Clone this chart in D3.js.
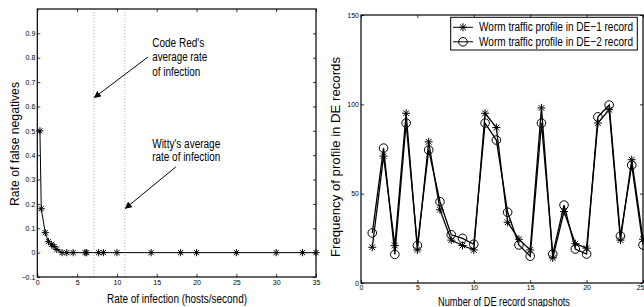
<!DOCTYPE html>
<html>
<head>
<meta charset="utf-8">
<script src="https://cdn.jsdelivr.net/npm/d3@7/dist/d3.min.js"></script>
<style>
  body { margin: 0; background: #fff; }
  text { font-family: "Liberation Sans", Arial, sans-serif; fill: #000; }
</style>
</head>
<body>
<div id="chart"></div>
<script>
// left panel: false negatives vs infection rate
const infectionRate = [0.33, 0.5, 1, 1.4, 1.8, 2.1, 2.45, 3.1, 3.7, 4.5, 6, 6.2, 7.7, 8.3, 10, 14.3, 18, 20, 25, 30, 33.3, 35];
const falseNegRate = [0.5, 0.18, 0.082, 0.045, 0.034, 0.025, 0.013, 0, 0, 0, 0, 0, 0, 0, 0, 0, 0, 0, 0, 0, 0, 0];
const leftXTicks = [0, 5, 10, 15, 20, 25, 30, 35];
const leftYTicks = [-0.1, 0, 0.1, 0.2, 0.3, 0.4, 0.5, 0.6, 0.7, 0.8, 0.9];
const codeRedRate = 7.1, wittyRate = 11;

// right panel: DE record snapshots
const snapshots = [1, 2, 3, 4, 5, 6, 7, 8, 9, 10, 11, 12, 13, 14, 15, 16, 17, 18, 19, 20, 21, 22, 23, 24, 25];
const de1 = [20, 71, 21, 95, 18.5, 79, 41, 24, 21, 18.5, 95, 87, 34, 24.5, 18.5, 98, 14, 40, 22, 19.5, 89.5, 97, 24, 69, 24.5];
const de2 = [28, 75.5, 16, 89.5, 21, 74.5, 45.5, 27, 25, 21.7, 89.5, 80, 39.6, 21.3, 15, 89.5, 16.2, 43.6, 19, 16.2, 93, 99.6, 26.3, 66, 21.3];
const rightXTicks = [0, 5, 10, 15, 20, 25];
const rightYTicks = [0, 50, 100, 150];
const legendLabels = ["Worm traffic profile in DE\u22121 record", "Worm traffic profile in DE\u22122 record"];

const width = 644, height = 307;
const svg = d3.select("#chart").append("svg")
  .attr("width", width).attr("height", height);

const defs = svg.append("defs");
defs.append("marker")
  .attr("id", "arrow")
  .attr("viewBox", "0 0 10 10")
  .attr("refX", 10).attr("refY", 5)
  .attr("markerWidth", 7).attr("markerHeight", 7)
  .attr("markerUnits", "userSpaceOnUse")
  .attr("orient", "auto")
  .append("path").attr("d", "M0,0L10,5L0,10z").attr("fill", "#000");

// matlab style '*' marker (plus + cross)
function star(r) {
  const d = r * Math.SQRT1_2;
  return `M0,${-r}V${r}M${-r},0H${r}M${-d},${-d}L${d},${d}M${-d},${d}L${d},${-d}`;
}

// squeeze text to a given width (reference uses a narrow font)
function squeeze(sel, w) {
  sel.attr("textLength", w).attr("lengthAdjust", "spacingAndGlyphs");
}

function frame(g, x, y, xTicks, yTicks, xFmt, yFmt, pad) {
  const [x0, x1] = x.range(), [y0, y1] = y.range();
  g.append("g").attr("class", "xaxis").attr("transform", `translate(0,${y0})`)
    .call(d3.axisBottom(x).tickValues(xTicks).tickFormat(xFmt).tickSizeInner(-3).tickSizeOuter(0).tickPadding(pad));
  g.append("g").attr("transform", `translate(0,${y1})`)
    .call(d3.axisTop(x).tickValues(xTicks).tickFormat("").tickSizeInner(-3).tickSizeOuter(0));
  g.append("g").attr("transform", `translate(${x0},0)`)
    .call(d3.axisLeft(y).tickValues(yTicks).tickFormat(yFmt).tickSizeInner(-3).tickSizeOuter(0).tickPadding(2));
  g.append("g").attr("transform", `translate(${x1},0)`)
    .call(d3.axisRight(y).tickValues(yTicks).tickFormat("").tickSizeInner(-3).tickSizeOuter(0));
  g.selectAll(".domain").remove();
  g.selectAll(".tick line").attr("stroke", "#000").attr("stroke-width", 0.8);
  g.selectAll(".tick text").attr("font-size", 7).attr("fill", "#333")
    .style("font-family", "'Liberation Sans', Arial, sans-serif");
  g.append("rect")
    .attr("x", x0).attr("y", y1)
    .attr("width", x1 - x0).attr("height", y0 - y1)
    .attr("fill", "none").attr("stroke", "#000").attr("stroke-width", 1.2);
}

// ---------- left panel ----------
const xL = d3.scaleLinear().domain([0, 35]).range([37.3, 316]);
const yL = d3.scaleLinear().domain([-0.1, 1.0]).range([277, 9]);
const left = svg.append("g");

[codeRedRate, wittyRate].forEach(r => {
  left.append("line")
    .attr("x1", xL(r)).attr("x2", xL(r))
    .attr("y1", yL(1.0)).attr("y2", yL(-0.1))
    .attr("stroke", "#999").attr("stroke-width", 0.8)
    .attr("stroke-dasharray", "1,2");
});

frame(left, xL, yL, leftXTicks, leftYTicks, d3.format("d"), d3.format(".1~f"), 3);

const ptsL = infectionRate.map((r, i) => [r, falseNegRate[i]]);
left.append("path")
  .datum(ptsL)
  .attr("fill", "none").attr("stroke", "#000").attr("stroke-width", 1)
  .attr("d", d3.line().x(d => xL(d[0])).y(d => yL(d[1])));
left.selectAll(".starL").data(ptsL).enter().append("path")
  .attr("transform", d => `translate(${xL(d[0])},${yL(d[1])})`)
  .attr("d", star(3.6))
  .attr("stroke", "#000").attr("stroke-width", 1).attr("fill", "none");

// annotations
left.append("line")
  .attr("x1", xL(13.9)).attr("y1", yL(0.803))
  .attr("x2", xL(codeRedRate)).attr("y2", yL(0.635))
  .attr("stroke", "#000").attr("stroke-width", 1).attr("marker-end", "url(#arrow)");
left.append("line")
  .attr("x1", xL(17.4)).attr("y1", yL(0.352))
  .attr("x2", xL(wittyRate)).attr("y2", yL(0.18))
  .attr("stroke", "#000").attr("stroke-width", 1).attr("marker-end", "url(#arrow)");

const notes = [
  { text: "Code Red's", y: 0.86, w: 52 },
  { text: "average rate", y: 0.803, w: 55 },
  { text: "of infection", y: 0.742, w: 48 },
  { text: "Witty's average", y: 0.446, w: 68 },
  { text: "rate of infection", y: 0.393, w: 68 }
];
notes.forEach(n => {
  left.append("text")
    .attr("x", xL(14.43)).attr("y", yL(n.y))
    .attr("dominant-baseline", "central")
    .attr("font-size", 12.5)
    .text(n.text)
    .call(squeeze, n.w);
});

left.append("text")
  .attr("x", 177).attr("y", 299)
  .attr("text-anchor", "middle").attr("dominant-baseline", "central")
  .attr("font-size", 12.5)
  .text("Rate of infection (hosts/second)")
  .call(squeeze, 140);
left.append("text")
  .attr("transform", "translate(15,144) rotate(-90)")
  .attr("text-anchor", "middle").attr("dominant-baseline", "central")
  .attr("font-size", 12.5)
  .text("Rate of false negatives")
  .call(squeeze, 124);

// ---------- right panel ----------
const xR = d3.scaleLinear().domain([0, 25]).range([361, 643]);
const yR = d3.scaleLinear().domain([0, 150]).range([283, 15]);
const right = svg.append("g");

frame(right, xR, yR, rightXTicks, rightYTicks, d3.format("d"), d3.format("d"), 2);
// last x label sits at the page edge: keep it inside
right.selectAll(".xaxis .tick text")
  .filter(d => d === 25)
  .attr("text-anchor", "end").attr("dx", 1);

const lineR = d3.line().x(d => xR(d[0])).y(d => yR(d[1]));
const s1 = snapshots.map((s, i) => [s, de1[i]]);
const s2 = snapshots.map((s, i) => [s, de2[i]]);

right.append("path").datum(s1)
  .attr("fill", "none").attr("stroke", "#000").attr("stroke-width", 1.3)
  .attr("d", lineR);
right.append("path").datum(s2)
  .attr("fill", "none").attr("stroke", "#000").attr("stroke-width", 1.3)
  .attr("d", lineR);

right.selectAll(".starR").data(s1).enter().append("path")
  .attr("transform", d => `translate(${xR(d[0])},${yR(d[1])})`)
  .attr("d", star(4))
  .attr("stroke", "#000").attr("stroke-width", 1).attr("fill", "none");
right.selectAll(".circR").data(s2).enter().append("circle")
  .attr("cx", d => xR(d[0])).attr("cy", d => yR(d[1]))
  .attr("r", 4.3)
  .attr("stroke", "#000").attr("stroke-width", 1).attr("fill", "none");

// legend
const legend = right.append("g");
legend.append("rect")
  .attr("x", 450.7).attr("y", 17.3)
  .attr("width", 186.6).attr("height", 32.7)
  .attr("fill", "#fff").attr("stroke", "#000").attr("stroke-width", 1);
legendLabels.forEach((lab, i) => {
  const ly = 27.3 + i * 14.5;
  legend.append("line")
    .attr("x1", 453).attr("x2", 473).attr("y1", ly).attr("y2", ly)
    .attr("stroke", "#000").attr("stroke-width", 1);
  if (i === 0) {
    legend.append("path").attr("transform", `translate(463,${ly})`)
      .attr("d", star(4)).attr("stroke", "#000").attr("fill", "none");
  } else {
    legend.append("circle").attr("cx", 463).attr("cy", ly).attr("r", 4.3)
      .attr("stroke", "#000").attr("fill", "none");
  }
  legend.append("text")
    .attr("x", 479).attr("y", ly)
    .attr("dominant-baseline", "central")
    .attr("font-size", 12.5)
    .text(lab)
    .call(squeeze, 154);
});

right.append("text")
  .attr("x", 504).attr("y", 302)
  .attr("text-anchor", "middle").attr("dominant-baseline", "central")
  .attr("font-size", 12.5)
  .text("Number of DE record snapshots")
  .call(squeeze, 132);
right.append("text")
  .attr("transform", "translate(336,157) rotate(-90)")
  .attr("text-anchor", "middle").attr("dominant-baseline", "central")
  .attr("font-size", 12.5)
  .text("Frequency of profile in DE records")
  .call(squeeze, 200);
</script>
</body>
</html>
